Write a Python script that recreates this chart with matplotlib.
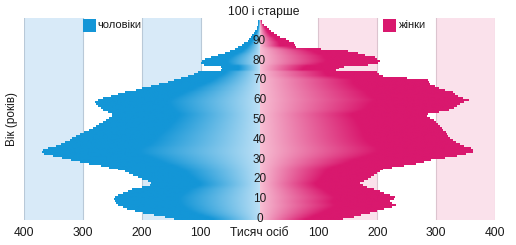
import numpy as np
import matplotlib
matplotlib.use('Agg')
import matplotlib.pyplot as plt
from matplotlib.patches import Rectangle, PathPatch
from matplotlib.path import Path
from matplotlib.colors import to_rgb

# ---------------- data (thousands of persons, single-year ages 0..100+) -------------
ages = list(range(0, 101))
men = [145, 160, 180, 198, 212, 225, 232, 240, 244, 246,
       247, 246, 240, 232, 224, 216, 200, 186, 185, 190,
       200, 207, 215, 222, 228, 240, 256, 270, 290, 305,
       320, 335, 350, 366, 370, 368, 360, 345, 337, 330,
       322, 318, 312, 305, 298, 290, 283, 278, 272, 265,
       260, 255, 250, 250, 258, 265, 270, 275, 278, 280,
       274, 265, 252, 240, 228, 210, 200, 185, 170, 156,
       145, 134, 122, 112, 105, 66, 64, 66, 95, 100,
       98, 92, 83, 71, 58, 50, 42, 36, 30, 26,
       20, 18, 14, 12, 9, 7, 5, 4, 3, 2, 3]
women = [142, 160, 172, 188, 200, 212, 225, 232, 225, 222,
         228, 230, 222, 212, 205, 195, 183, 175, 171, 178,
         185, 190, 195, 200, 204, 210, 225, 245, 265, 280,
         292, 315, 335, 350, 362, 363, 360, 348, 340, 333,
         328, 324, 320, 318, 316, 312, 310, 306, 303, 300,
         296, 290, 284, 286, 305, 322, 330, 335, 340, 348,
         356, 346, 338, 332, 328, 315, 305, 298, 290, 288,
         286, 250, 210, 203, 200, 130, 135, 144, 185, 202,
         205, 200, 196, 180, 168, 150, 105, 62, 60, 58,
         50, 45, 35, 29, 24, 20, 16, 12, 8, 5, 4]
age_labels = [0, 10, 20, 30, 40, 50, 60, 70, 80, 90]
x_ticks = [-400, -300, -200, -100, 0, 100, 200, 300, 400]
x_tick_labels = ['400', '300', '200', '100', 'Тисяч осіб', '100', '200', '300', '400']
men_label = 'чоловіки'
women_label = 'жінки'
top_label = '100 і старше'
y_label = 'Вік (років)'

# ---------------- style -------------
plt.rcParams['font.family'] = ['Liberation Sans', 'DejaVu Sans']
blue_sat = np.array(to_rgb('#1496d7'))
blue_light = np.array([190, 225, 246]) / 255
pink_sat = np.array(to_rgb('#d9186e'))
pink_light = np.array([247, 192, 212]) / 255
band_blue = '#d8eaf8'
band_pink = '#fae1eb'
line_blue = '#b9c9d8'
line_pink = '#dcc4cf'
text_col = '#1a1a1a'

W, H = 516, 245
fig = plt.figure(figsize=(W / 100, H / 100), dpi=100)
ax = fig.add_axes([24 / W, 25 / H, 471 / W, 202 / H])

# background bands
ax.axvspan(-400, -300, color=band_blue, lw=0, zorder=0)
ax.axvspan(-200, -100, color=band_blue, lw=0, zorder=0)
ax.axvspan(100, 200, color=band_pink, lw=0, zorder=0)
ax.axvspan(300, 400, color=band_pink, lw=0, zorder=0)
for v in (-400, -300, -200, -100):
    ax.axvline(v, color=line_blue, lw=0.8, zorder=1)
for v in (100, 200, 300, 400):
    ax.axvline(v, color=line_pink, lw=0.8, zorder=1)

ages_arr = np.array(ages)
men_arr = np.array(men, float)
women_arr = np.array(women, float)
bars_m = ax.barh(ages_arr, -men_arr, height=1.0, color=blue_sat, lw=0, zorder=2)
bars_w = ax.barh(ages_arr, women_arr, height=1.0, color=pink_sat, lw=0, zorder=2)


def gradient_overlay(bars, values, sign, light, sat):
    xs = np.linspace(0, 400, 1601)
    frac = xs[None, :] / values[:, None]
    t = np.clip(frac / 0.55, 0, 1) ** 0.9
    img = light[None, None, :] + (sat - light)[None, None, :] * t[..., None]
    extent = [0, sign * 400, -0.5, len(values) - 0.5]
    im = ax.imshow(img, extent=extent, origin='lower', aspect='auto',
                   interpolation='bilinear', zorder=3)
    path = Path.make_compound_path(
        *[b.get_path().transformed(b.get_patch_transform()) for b in bars])
    clip = PathPatch(path, transform=ax.transData, facecolor='none', edgecolor='none')
    im.set_clip_path(clip)


gradient_overlay(bars_m, men_arr, -1, blue_light, blue_sat)
gradient_overlay(bars_w, women_arr, 1, pink_light, pink_sat)

ax.set_xlim(-400, 400)
ax.set_ylim(-0.5, 101.5)
for s in ax.spines.values():
    s.set_visible(False)
ax.set_yticks([])
ax.set_xticks(x_ticks, x_tick_labels)
ax.tick_params(axis='x', length=0, pad=5, labelsize=8.7, colors=text_col)

for a in age_labels:
    ax.text(0, a, str(a), ha='center', va='center', fontsize=8.5,
            color=text_col, zorder=5)

fig.text(264 / W, 1 - 12 / H, top_label, ha='center', va='center',
         fontsize=8.7, color=text_col)
fig.text(12 / W, 1 - 119 / H, y_label, rotation=90, ha='center', va='center',
         fontsize=8.5, color=text_col)

# legend entries
fig.patches.append(Rectangle((83 / W, 1 - 32 / H), 13 / W, 13 / H,
                             transform=fig.transFigure, color=blue_sat, lw=0))
fig.text(97 / W, 1 - 25.5 / H, men_label, ha='left', va='center',
         fontsize=8, color=text_col)
fig.patches.append(Rectangle((383 / W, 1 - 32 / H), 13 / W, 13 / H,
                             transform=fig.transFigure, color=pink_sat, lw=0))
fig.text(399 / W, 1 - 25.5 / H, women_label, ha='left', va='center',
         fontsize=8, color=text_col)

fig.savefig('out.png', dpi=100)
